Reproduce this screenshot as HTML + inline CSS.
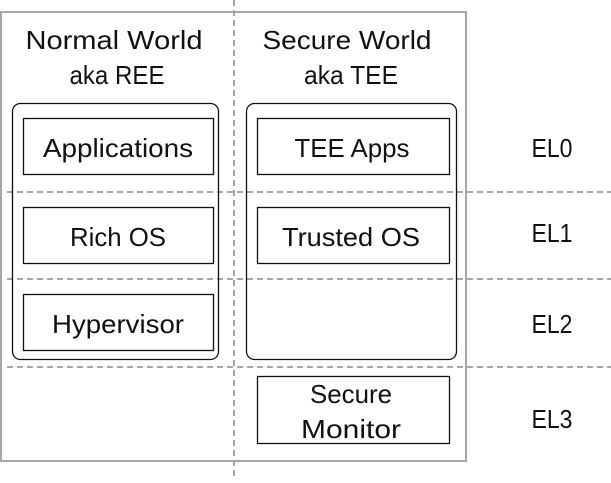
<!DOCTYPE html>
<html><head><style>body{margin:0;background:#fff}</style></head><body>
<svg width="611" height="478" xmlns="http://www.w3.org/2000/svg" font-family="'Liberation Sans','Noto Sans CJK SC',sans-serif" font-size="26" fill="#111">
<rect x="1" y="12" width="465" height="449" fill="none" stroke="#a6a6a6" stroke-width="2"/>
<g stroke="#a6a6a6" stroke-width="2" stroke-dasharray="6,4">
<line x1="234" y1="0" x2="234" y2="478"/>
<line x1="7" y1="192" x2="611" y2="192"/>
<line x1="7" y1="279" x2="611" y2="279"/>
<line x1="7" y1="367" x2="611" y2="367"/>
</g>
<g fill="none" stroke="#111" stroke-width="1.3">
<rect x="12.5" y="103.5" width="206" height="256" rx="8"/>
<rect x="246.5" y="103.5" width="210" height="256" rx="8"/>
<rect x="23.5" y="118.5" width="190" height="56"/>
<rect x="23.5" y="207.5" width="190" height="56"/>
<rect x="23.5" y="294.5" width="190" height="56"/>
<rect x="257.5" y="118.5" width="192" height="56"/>
<rect x="257.5" y="207.5" width="192" height="56"/>
<rect x="257.5" y="376.5" width="192" height="67"/>
</g>
<g text-anchor="middle">
<text x="114" y="49" textLength="177" lengthAdjust="spacingAndGlyphs">Normal World</text>
<text x="117" y="84" textLength="95" lengthAdjust="spacingAndGlyphs">aka REE</text>
<text x="347" y="49" textLength="169" lengthAdjust="spacingAndGlyphs">Secure World</text>
<text x="351" y="84" textLength="94" lengthAdjust="spacingAndGlyphs">aka TEE</text>
<text x="118" y="157" textLength="150" lengthAdjust="spacingAndGlyphs">Applications</text>
<text x="118" y="246" textLength="96" lengthAdjust="spacingAndGlyphs">Rich OS</text>
<text x="118" y="333" textLength="132" lengthAdjust="spacingAndGlyphs">Hypervisor</text>
<text x="352" y="157" textLength="115" lengthAdjust="spacingAndGlyphs">TEE Apps</text>
<text x="351" y="246" textLength="138" lengthAdjust="spacingAndGlyphs">Trusted OS</text>
<text x="351" y="403" textLength="82" lengthAdjust="spacingAndGlyphs">Secure</text>
<text x="351" y="438" textLength="100" lengthAdjust="spacingAndGlyphs">Monitor</text>
<text x="552" y="157" textLength="41" lengthAdjust="spacingAndGlyphs">EL0</text>
<text x="552" y="242" textLength="41" lengthAdjust="spacingAndGlyphs">EL1</text>
<text x="552" y="333" textLength="41" lengthAdjust="spacingAndGlyphs">EL2</text>
<text x="552" y="428" textLength="41" lengthAdjust="spacingAndGlyphs">EL3</text>
</g>
</svg>
</body></html>
